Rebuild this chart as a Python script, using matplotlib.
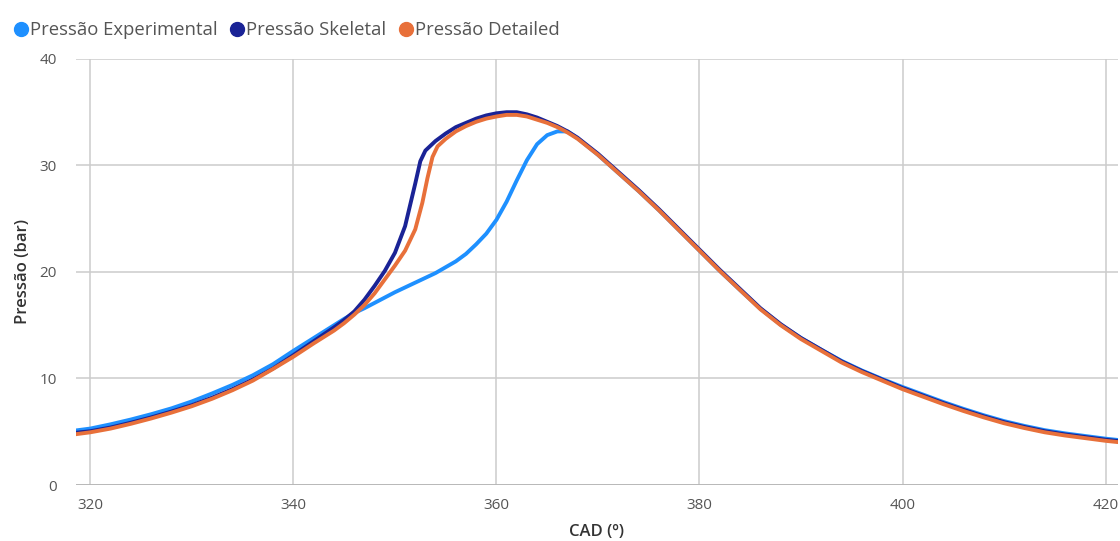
import matplotlib.pyplot as plt
from matplotlib.lines import Line2D

# crank angle (deg) and pressures (bar)
cad_exp = [318, 320, 322, 324, 326, 328, 330, 332, 334, 336, 338, 340, 342, 344, 345, 346,
           347, 348, 350, 352, 354, 356, 357, 358, 359, 360, 361, 362, 363, 364, 365, 366,
           367, 368, 370, 372, 374, 376, 378, 380, 382, 384, 386, 388, 390, 392, 394, 396,
           398, 400, 402, 404, 406, 408, 410, 412, 414, 416, 418, 420, 422]
p_exp = [5.05, 5.3, 5.7, 6.15, 6.65, 7.2, 7.85, 8.6, 9.4, 10.3, 11.35, 12.6, 13.8, 15.0, 15.6, 16.15,
         16.6, 17.1, 18.1, 19.0, 19.9, 21.0, 21.7, 22.6, 23.6, 24.9, 26.6, 28.6, 30.5, 32.0, 32.85, 33.2,
         33.2, 32.55, 31.0, 29.3, 27.6, 25.8, 23.9, 22.0, 20.1, 18.3, 16.55, 15.05, 13.8, 12.7, 11.65, 10.75,
         9.95, 9.2, 8.5, 7.8, 7.15, 6.55, 6.0, 5.55, 5.15, 4.85, 4.6, 4.35, 4.15]

cad_skel = [318, 320, 322, 324, 326, 328, 330, 332, 334, 336, 338, 340, 342, 344, 345, 346,
            347, 348, 349, 350, 351, 352, 352.5, 353, 354, 355, 356, 357, 358, 359, 360, 361,
            362, 363, 364, 365, 366, 367, 368, 370, 372, 374, 376, 378, 380, 382, 384, 386,
            388, 390, 392, 394, 396, 398, 400, 402, 404, 406, 408, 410, 412, 414, 416, 418,
            420, 422]
p_skel = [4.85, 5.05, 5.4, 5.85, 6.35, 6.9, 7.5, 8.2, 9.0, 9.9, 10.95, 12.2, 13.5, 14.8, 15.5, 16.3,
          17.4, 18.7, 20.1, 21.8, 24.3, 28.3, 30.4, 31.4, 32.3, 33.0, 33.6, 34.0, 34.4, 34.7, 34.9, 35.0,
          35.0, 34.8, 34.5, 34.1, 33.7, 33.2, 32.6, 31.1, 29.4, 27.7, 25.9, 24.0, 22.1, 20.2, 18.4, 16.6,
          15.1, 13.8, 12.7, 11.6, 10.7, 9.9, 9.1, 8.4, 7.7, 7.05, 6.45, 5.9, 5.45, 5.05, 4.75, 4.5,
          4.25, 4.05]

cad_det = [318, 320, 322, 324, 326, 328, 330, 332, 334, 336, 338, 340, 342, 344, 345, 346,
           347, 348, 349, 350, 351, 352, 352.7, 353.2, 353.7, 354.2, 355, 356, 357, 358, 359, 360,
           361, 362, 363, 364, 365, 366, 367, 368, 370, 372, 374, 376, 378, 380, 382, 384,
           386, 388, 390, 392, 394, 396, 398, 400, 402, 404, 406, 408, 410, 412, 414, 416,
           418, 420, 422]
p_det = [4.7, 4.95, 5.3, 5.75, 6.25, 6.8, 7.4, 8.1, 8.9, 9.8, 10.9, 12.05, 13.3, 14.5, 15.2, 16.0,
         16.9, 18.0, 19.3, 20.6, 22.0, 24.0, 26.5, 28.8, 30.8, 31.8, 32.5, 33.2, 33.7, 34.1, 34.4, 34.6,
         34.75, 34.75, 34.6, 34.3, 34.0, 33.6, 33.1, 32.5, 31.0, 29.3, 27.6, 25.8, 23.9, 22.0, 20.1, 18.3,
         16.5, 15.0, 13.7, 12.6, 11.5, 10.6, 9.8, 9.0, 8.3, 7.6, 6.95, 6.35, 5.8, 5.35, 4.95, 4.65,
         4.4, 4.15, 3.95]

series_names = ["Pressão Experimental", "Pressão Skeletal", "Pressão Detailed"]
series_colors = ["#1e90ff", "#1a2396", "#e8703a"]

plt.rcParams['font.family'] = ['Open Sans', 'DejaVu Sans']

fig = plt.figure(figsize=(11.2, 5.41), dpi=100)
ax = fig.add_axes([0.068, 0.1035, 0.93, 0.7875])

ax.plot(cad_exp, p_exp, color=series_colors[0], lw=2.8, solid_capstyle='round', zorder=3)
ax.plot(cad_skel, p_skel, color=series_colors[1], lw=2.8, solid_capstyle='round', zorder=4)
ax.plot(cad_det, p_det, color=series_colors[2], lw=2.8, solid_capstyle='round', zorder=5)

ax.set_xlim(318.6, 421.2)
ax.set_ylim(0, 40)
ax.set_xticks([320, 340, 360, 380, 400, 420])
ax.set_yticks([0, 10, 20, 30, 40])
ax.grid(True, color="#cccccc", lw=1.1)
ax.set_axisbelow(True)
ax.axhline(0, color="#b0b0b0", lw=1.8, zorder=2)
for s in ax.spines.values():
    s.set_visible(False)
ax.tick_params(length=0, labelsize=11, colors="#555555")
ax.tick_params(axis='y', pad=14)
ax.tick_params(axis='x', pad=9)

ax.set_xlabel("CAD (º)", fontsize=12, color="#333333", fontweight='semibold', labelpad=8)
ax.set_ylabel("Pressão (bar)", fontsize=12, color="#333333", fontweight='semibold', labelpad=6)

handles = [Line2D([], [], marker='o', ls='', color=c, markersize=10) for c in series_colors]
fig.legend(handles, series_names, loc='upper left', bbox_to_anchor=(-0.006, 0.985), ncol=3,
           frameon=False, handletextpad=-0.3, handlelength=1.6, columnspacing=0.25, fontsize=13.3,
           labelcolor="#555555", borderaxespad=0.3)

fig.savefig("out.png", dpi=100)
